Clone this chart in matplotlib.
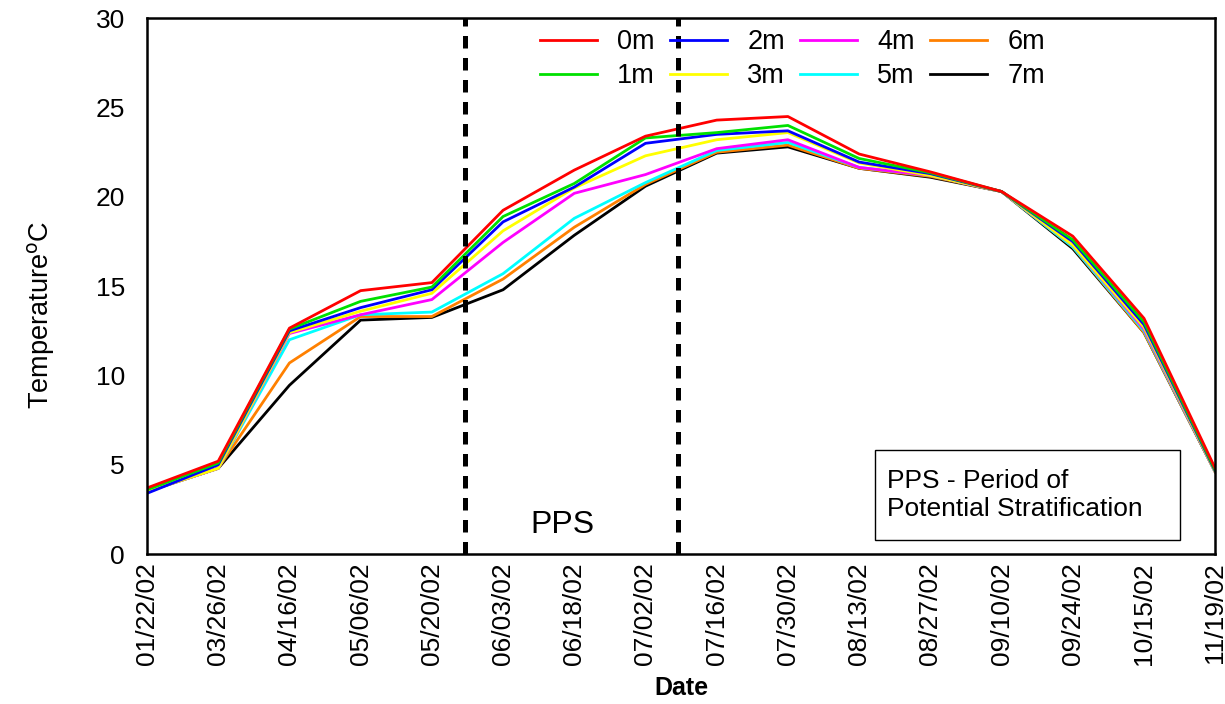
import numpy as np
import matplotlib
matplotlib.use("Agg")
import matplotlib.pyplot as plt
from matplotlib.patches import Rectangle

plt.rcParams["font.family"] = ["Liberation Sans", "DejaVu Sans"]

dates = ["01/22/02", "03/26/02", "04/16/02", "05/06/02", "05/20/02", "06/03/02",
         "06/18/02", "07/02/02", "07/16/02", "07/30/02", "08/13/02", "08/27/02",
         "09/10/02", "09/24/02", "10/15/02", "11/19/02"]

t0m = [3.7, 5.2, 12.65, 14.75, 15.2, 19.25, 21.5, 23.4, 24.3, 24.5, 22.4, 21.4, 20.3, 17.8, 13.2, 4.8]
t1m = [3.6, 5.1, 12.6, 14.15, 14.95, 18.9, 20.75, 23.3, 23.6, 24.0, 22.15, 21.35, 20.3, 17.6, 13.0, 4.7]
t2m = [3.4, 5.0, 12.5, 13.8, 14.8, 18.6, 20.55, 23.0, 23.5, 23.7, 21.95, 21.3, 20.3, 17.5, 12.85, 4.65]
t3m = [3.5, 4.8, 12.4, 13.6, 14.6, 18.1, 20.5, 22.3, 23.2, 23.6, 21.9, 21.2, 20.3, 17.3, 12.7, 4.6]
t4m = [3.5, 4.8, 12.35, 13.4, 14.25, 17.45, 20.2, 21.25, 22.7, 23.2, 21.65, 21.2, 20.3, 17.3, 12.6, 4.6]
t5m = [3.5, 4.8, 12.0, 13.4, 13.55, 15.7, 18.8, 20.8, 22.6, 23.05, 21.65, 21.2, 20.3, 17.2, 12.5, 4.6]
t6m = [3.5, 4.8, 10.7, 13.3, 13.3, 15.4, 18.3, 20.7, 22.5, 22.9, 21.6, 21.15, 20.3, 17.2, 12.4, 4.6]
t7m = [3.5, 4.8, 9.45, 13.1, 13.25, 14.8, 17.85, 20.6, 22.45, 22.8, 21.6, 21.1, 20.3, 17.1, 12.4, 4.6]

series = [("0m", t0m, "#ff0000"), ("1m", t1m, "#00e000"), ("2m", t2m, "#0000ff"),
          ("3m", t3m, "#ffff00"), ("4m", t4m, "#ff00ff"), ("5m", t5m, "#00ffff"),
          ("6m", t6m, "#ff8000"), ("7m", t7m, "#000000")]

pps_bounds = [4.47, 7.45]   # dashed lines bracketing the stratification period

fig = plt.figure(figsize=(12.25, 7.04), dpi=100)
ax = fig.add_axes([0.12, 0.213, 0.872, 0.761])
x = np.arange(len(dates))

# deeper layers first so the surface lines sit on top
for name, vals, col in series[::-1]:
    ax.plot(x, vals, color=col, lw=2.0, label=name)

for xb in pps_bounds:
    ax.axvline(xb, color="black", lw=3.6, ls=(0, (2.5, 1.9)))

ax.set_xlim(0, len(dates) - 1)
ax.set_ylim(0, 30)
ax.set_yticks(range(0, 31, 5))
ax.set_xticks(x)
ax.set_xticklabels(dates, rotation=90)
ax.tick_params(length=0, labelsize=19)
ax.tick_params(axis="y", pad=16)
ax.tick_params(axis="x", pad=6)
for sp in ax.spines.values():
    sp.set_linewidth(1.8)

ax.set_ylabel("Temperature$^{\\mathrm{o}}$C", fontsize=19.5)
ax.yaxis.set_label_coords(-0.084, 0.446)
ax.set_xlabel("Date", fontsize=18, fontweight="bold", labelpad=8)

ax.text(5.83, 1.6, "PPS", fontsize=23, ha="center", va="center")

# note box
ax.add_patch(Rectangle((0.6816, 0.026), 0.2855, 0.168, transform=ax.transAxes,
                       fc="white", ec="black", lw=1, zorder=3))
ax.text(0.693, 0.11, "PPS - Period of\nPotential Stratification", transform=ax.transAxes,
        fontsize=19, ha="left", va="center", linespacing=1.2, zorder=4)

h, l = ax.get_legend_handles_labels()
h, l = h[::-1], l[::-1]
ax.legend(h, l, ncol=4, loc="upper left", bbox_to_anchor=(540 / 1225, 1 - 29 / 704),
          bbox_transform=fig.transFigure, frameon=False, fontsize=19.5,
          handlelength=2.1, handletextpad=0.75, columnspacing=0.56,
          labelspacing=0.3, borderpad=0, borderaxespad=0)

fig.savefig("out.png", dpi=100)
